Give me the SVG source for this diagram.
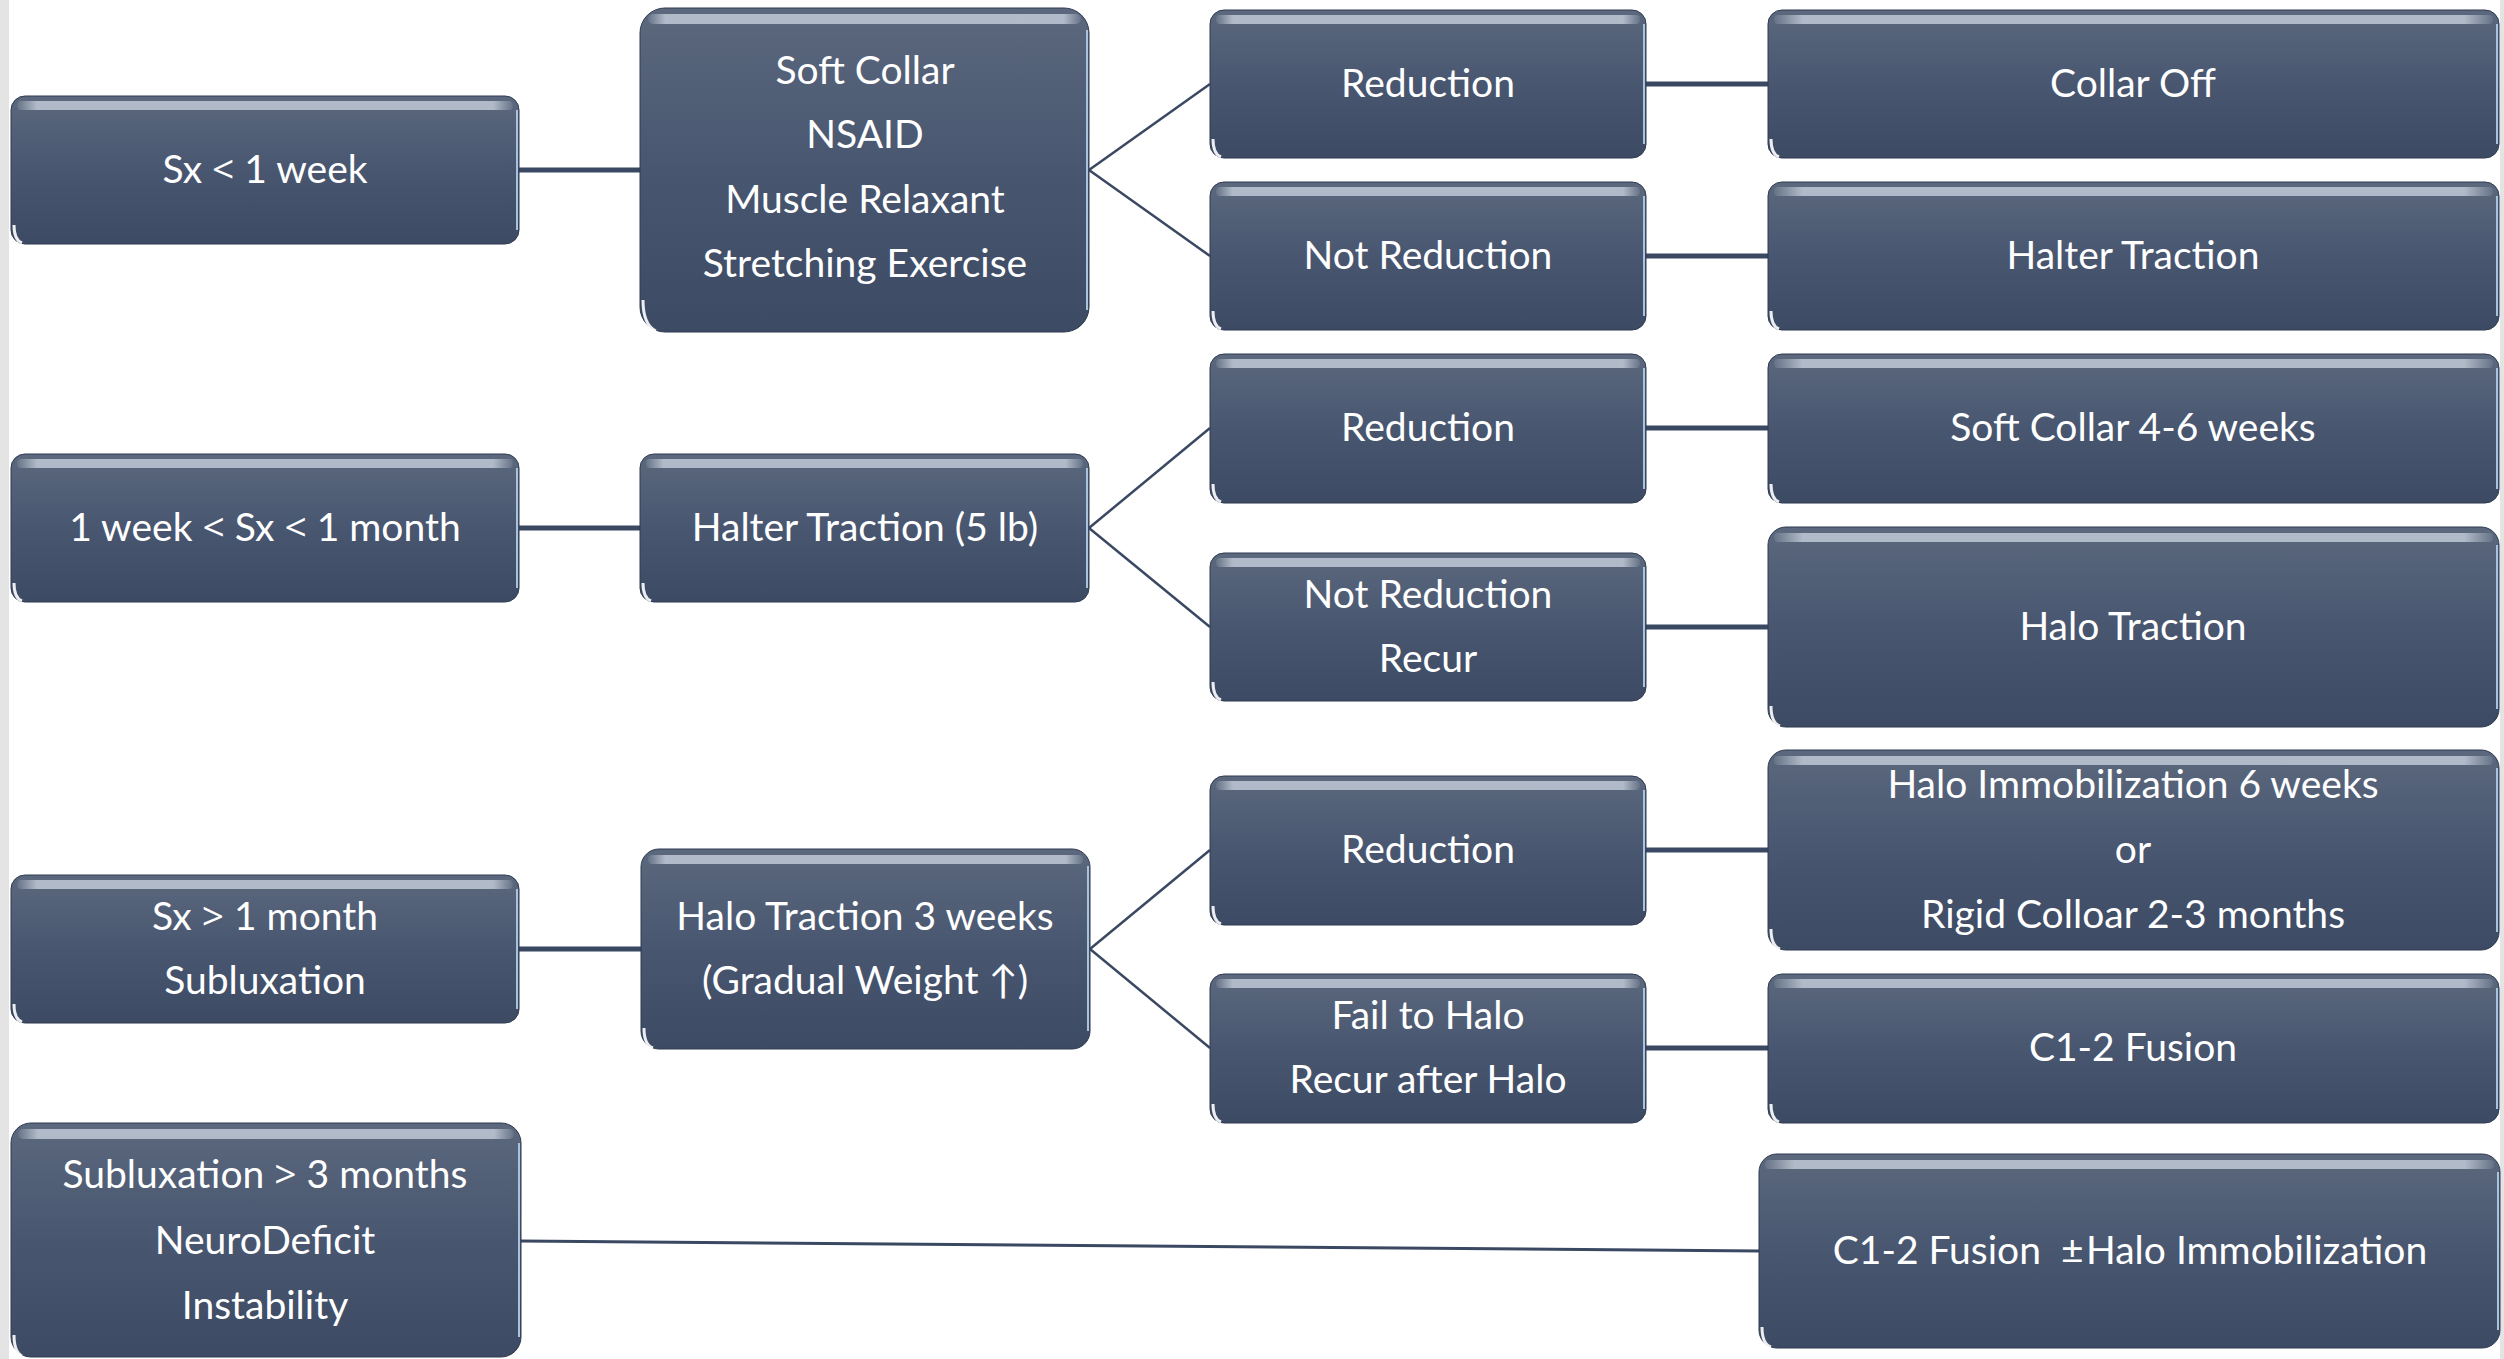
<svg xmlns="http://www.w3.org/2000/svg" width="2504" height="1359" viewBox="0 0 2504 1359">
<defs>
<linearGradient id="boxFill" x1="0" y1="0" x2="0" y2="1">
<stop offset="0" stop-color="#5b687d"/>
<stop offset="0.5" stop-color="#485670"/>
<stop offset="1" stop-color="#3c4a64"/>
</linearGradient>
<linearGradient id="gloss" x1="0" y1="0" x2="1" y2="0">
<stop offset="0" stop-color="#d6dee9" stop-opacity="0.1"/>
<stop offset="0.04" stop-color="#d6dee9" stop-opacity="0.7"/>
<stop offset="0.96" stop-color="#d6dee9" stop-opacity="0.7"/>
<stop offset="1" stop-color="#d6dee9" stop-opacity="0.1"/>
</linearGradient>
</defs>
<style>
.box{fill:url(#boxFill);stroke:#2f3b50;stroke-width:1}
.edge{fill:none;stroke:#a9c3df;stroke-width:2}
.gl{fill:url(#gloss)}
.hl{fill:none;stroke:#ffffff;stroke-width:3;stroke-opacity:0.9}
.t{font-family:Lato,"Open Sans","Liberation Sans",sans-serif;font-size:39px;fill:#ffffff;text-anchor:middle}
.op{font-family:"Open Sans","Liberation Sans",sans-serif}
.c{fill:none;stroke:#3a4862;stroke-linecap:butt}
.thick{stroke-width:5}
.thin{stroke-width:2.5}
</style>
<rect x="0" y="0" width="2504" height="1359" fill="#ffffff"/>
<rect x="0" y="0" width="9" height="1359" fill="#e4e4e4"/>
<rect x="2500" y="0" width="4" height="1359" fill="#e4e4e4"/>

<g id="connectors">
<line class="c thick" x1="519" y1="170" x2="640" y2="170"/>
<line class="c thick" x1="519" y1="528" x2="640" y2="528"/>
<line class="c thick" x1="519" y1="949" x2="641" y2="949"/>
<line class="c thin" x1="1089" y1="170" x2="1210" y2="84"/>
<line class="c thin" x1="1089" y1="170" x2="1210" y2="256"/>
<line class="c thin" x1="1089" y1="528" x2="1210" y2="428"/>
<line class="c thin" x1="1089" y1="528" x2="1210" y2="627"/>
<line class="c thin" x1="1090" y1="949" x2="1210" y2="850"/>
<line class="c thin" x1="1090" y1="949" x2="1210" y2="1048"/>
<line class="c thick" x1="1646" y1="84" x2="1768" y2="84"/>
<line class="c thick" x1="1646" y1="256" x2="1768" y2="256"/>
<line class="c thick" x1="1646" y1="428" x2="1768" y2="428"/>
<line class="c thick" x1="1646" y1="627" x2="1768" y2="627"/>
<line class="c thick" x1="1646" y1="850" x2="1768" y2="850"/>
<line class="c thick" x1="1646" y1="1048" x2="1768" y2="1048"/>
<line class="c" stroke-width="3" x1="521" y1="1241" x2="1759" y2="1251"/>
</g>

<g id="n1">
<rect class="box" x="11" y="96" width="508" height="148" rx="14"/>
<rect class="gl" x="17" y="101" width="496" height="9" rx="4"/>
<path class="edge" d="M517 110 V230"/>
<path class="hl" d="M14 225 Q14 240 22 243"/>
<text class="t" x="265" y="183">Sx <tspan class="op">&lt;</tspan> 1 week</text>
</g>
<g id="n2">
<rect class="box" x="11" y="454" width="508" height="148" rx="14"/>
<rect class="gl" x="17" y="459" width="496" height="9" rx="4"/>
<path class="edge" d="M517 468 V588"/>
<path class="hl" d="M14 583 Q14 598 22 601"/>
<text class="t" x="265" y="541">1 week <tspan class="op">&lt;</tspan> Sx <tspan class="op">&lt;</tspan> 1 month</text>
</g>
<g id="n3">
<rect class="box" x="11" y="875" width="508" height="148" rx="14"/>
<rect class="gl" x="17" y="880" width="496" height="9" rx="4"/>
<path class="edge" d="M517 889 V1009"/>
<path class="hl" d="M14 1004 Q14 1019 22 1022"/>
<text class="t" x="265" y="930">Sx <tspan class="op">&gt;</tspan> 1 month</text>
<text class="t" x="265" y="994">Subluxation</text>
</g>
<g id="n4">
<rect class="box" x="11" y="1123" width="510" height="234" rx="20"/>
<rect class="gl" x="18" y="1129" width="496" height="10" rx="5"/>
<path class="edge" d="M519 1143 V1337"/>
<path class="hl" d="M14 1335 Q14 1352 22 1356"/>
<text class="t" x="265" y="1188">Subluxation <tspan class="op">&gt;</tspan> 3 months</text>
<text class="t" x="265" y="1254">NeuroDeficit</text>
<text class="t" x="265" y="1319">Instability</text>
</g>

<g id="n5">
<rect class="box" x="640" y="8" width="449" height="324" rx="25"/>
<rect class="gl" x="648" y="14" width="433" height="10" rx="5"/>
<path class="edge" d="M1087 30 V310"/>
<path class="hl" d="M643 300 Q643 325 656 331"/>
<text class="t" x="865" y="84">Soft Collar</text>
<text class="t" x="865" y="148">NSAID</text>
<text class="t" x="865" y="213">Muscle Relaxant</text>
<text class="t" x="865" y="277">Stretching Exercise</text>
</g>
<g id="n6">
<rect class="box" x="640" y="454" width="449" height="148" rx="14"/>
<rect class="gl" x="646" y="459" width="437" height="9" rx="4"/>
<path class="edge" d="M1087 468 V588"/>
<path class="hl" d="M643 583 Q643 598 651 601"/>
<text class="t" x="865" y="541">Halter Traction (5 lb)</text>
</g>
<g id="n7">
<rect class="box" x="641" y="849" width="449" height="200" rx="18"/>
<rect class="gl" x="648" y="855" width="435" height="9" rx="4"/>
<path class="edge" d="M1088 866 V1031"/>
<path class="hl" d="M644 1028 Q644 1045 653 1048"/>
<text class="t" x="865" y="930">Halo Traction 3 weeks</text>
<text class="t" x="865" y="994">(Gradual Weight ↑)</text>
</g>

<g id="n8">
<rect class="box" x="1210" y="10" width="436" height="148" rx="14"/>
<rect class="gl" x="1216" y="15" width="424" height="9" rx="4"/>
<path class="edge" d="M1644 24 V144"/>
<path class="hl" d="M1213 139 Q1213 154 1221 157"/>
<text class="t" x="1428" y="97">Reduction</text>
</g>
<g id="n9">
<rect class="box" x="1210" y="182" width="436" height="148" rx="14"/>
<rect class="gl" x="1216" y="187" width="424" height="9" rx="4"/>
<path class="edge" d="M1644 196 V316"/>
<path class="hl" d="M1213 311 Q1213 326 1221 329"/>
<text class="t" x="1428" y="269">Not Reduction</text>
</g>
<g id="n10">
<rect class="box" x="1210" y="354" width="436" height="149" rx="14"/>
<rect class="gl" x="1216" y="359" width="424" height="9" rx="4"/>
<path class="edge" d="M1644 368 V489"/>
<path class="hl" d="M1213 484 Q1213 499 1221 502"/>
<text class="t" x="1428" y="441">Reduction</text>
</g>
<g id="n11">
<rect class="box" x="1210" y="553" width="436" height="148" rx="14"/>
<rect class="gl" x="1216" y="558" width="424" height="9" rx="4"/>
<path class="edge" d="M1644 567 V687"/>
<path class="hl" d="M1213 682 Q1213 697 1221 700"/>
<text class="t" x="1428" y="608">Not Reduction</text>
<text class="t" x="1428" y="672">Recur</text>
</g>
<g id="n12">
<rect class="box" x="1210" y="776" width="436" height="149" rx="14"/>
<rect class="gl" x="1216" y="781" width="424" height="9" rx="4"/>
<path class="edge" d="M1644 790 V911"/>
<path class="hl" d="M1213 906 Q1213 921 1221 924"/>
<text class="t" x="1428" y="863">Reduction</text>
</g>
<g id="n13">
<rect class="box" x="1210" y="974" width="436" height="149" rx="14"/>
<rect class="gl" x="1216" y="979" width="424" height="9" rx="4"/>
<path class="edge" d="M1644 988 V1109"/>
<path class="hl" d="M1213 1104 Q1213 1119 1221 1122"/>
<text class="t" x="1428" y="1029">Fail to Halo</text>
<text class="t" x="1428" y="1093">Recur after Halo</text>
</g>

<g id="n14">
<rect class="box" x="1768" y="10" width="731" height="148" rx="14"/>
<rect class="gl" x="1774" y="15" width="719" height="9" rx="4"/>
<path class="edge" d="M2497 24 V144"/>
<path class="hl" d="M1771 139 Q1771 154 1779 157"/>
<text class="t" x="2133" y="97">Collar Off</text>
</g>
<g id="n15">
<rect class="box" x="1768" y="182" width="731" height="148" rx="14"/>
<rect class="gl" x="1774" y="187" width="719" height="9" rx="4"/>
<path class="edge" d="M2497 196 V316"/>
<path class="hl" d="M1771 311 Q1771 326 1779 329"/>
<text class="t" x="2133" y="269">Halter Traction</text>
</g>
<g id="n16">
<rect class="box" x="1768" y="354" width="731" height="149" rx="14"/>
<rect class="gl" x="1774" y="359" width="719" height="9" rx="4"/>
<path class="edge" d="M2497 368 V489"/>
<path class="hl" d="M1771 484 Q1771 499 1779 502"/>
<text class="t" x="2133" y="441">Soft Collar 4-6 weeks</text>
</g>
<g id="n17">
<rect class="box" x="1768" y="527" width="731" height="200" rx="18"/>
<rect class="gl" x="1774" y="533" width="719" height="9" rx="4"/>
<path class="edge" d="M2497 545 V709"/>
<path class="hl" d="M1771 706 Q1771 723 1780 726"/>
<text class="t" x="2133" y="640">Halo Traction</text>
</g>
<g id="n18">
<rect class="box" x="1768" y="750" width="731" height="200" rx="18"/>
<rect class="gl" x="1774" y="756" width="719" height="9" rx="4"/>
<path class="edge" d="M2497 768 V932"/>
<path class="hl" d="M1771 929 Q1771 946 1780 949"/>
<text class="t" x="2133" y="798">Halo Immobilization 6 weeks</text>
<text class="t" x="2133" y="863">or</text>
<text class="t" x="2133" y="928">Rigid Colloar 2-3 months</text>
</g>
<g id="n19">
<rect class="box" x="1768" y="974" width="731" height="149" rx="14"/>
<rect class="gl" x="1774" y="979" width="719" height="9" rx="4"/>
<path class="edge" d="M2497 988 V1109"/>
<path class="hl" d="M1771 1104 Q1771 1119 1779 1122"/>
<text class="t" x="2133" y="1061">C1-2 Fusion</text>
</g>
<g id="n20">
<rect class="box" x="1759" y="1154" width="741" height="194" rx="18"/>
<rect class="gl" x="1765" y="1160" width="729" height="9" rx="4"/>
<path class="edge" d="M2498 1172 V1330"/>
<path class="hl" d="M1762 1327 Q1762 1344 1771 1347"/>
<text class="t" x="2130" y="1264">C1-2 Fusion &#160;±&#8202;Halo Immobilization</text>
</g>
</svg>
